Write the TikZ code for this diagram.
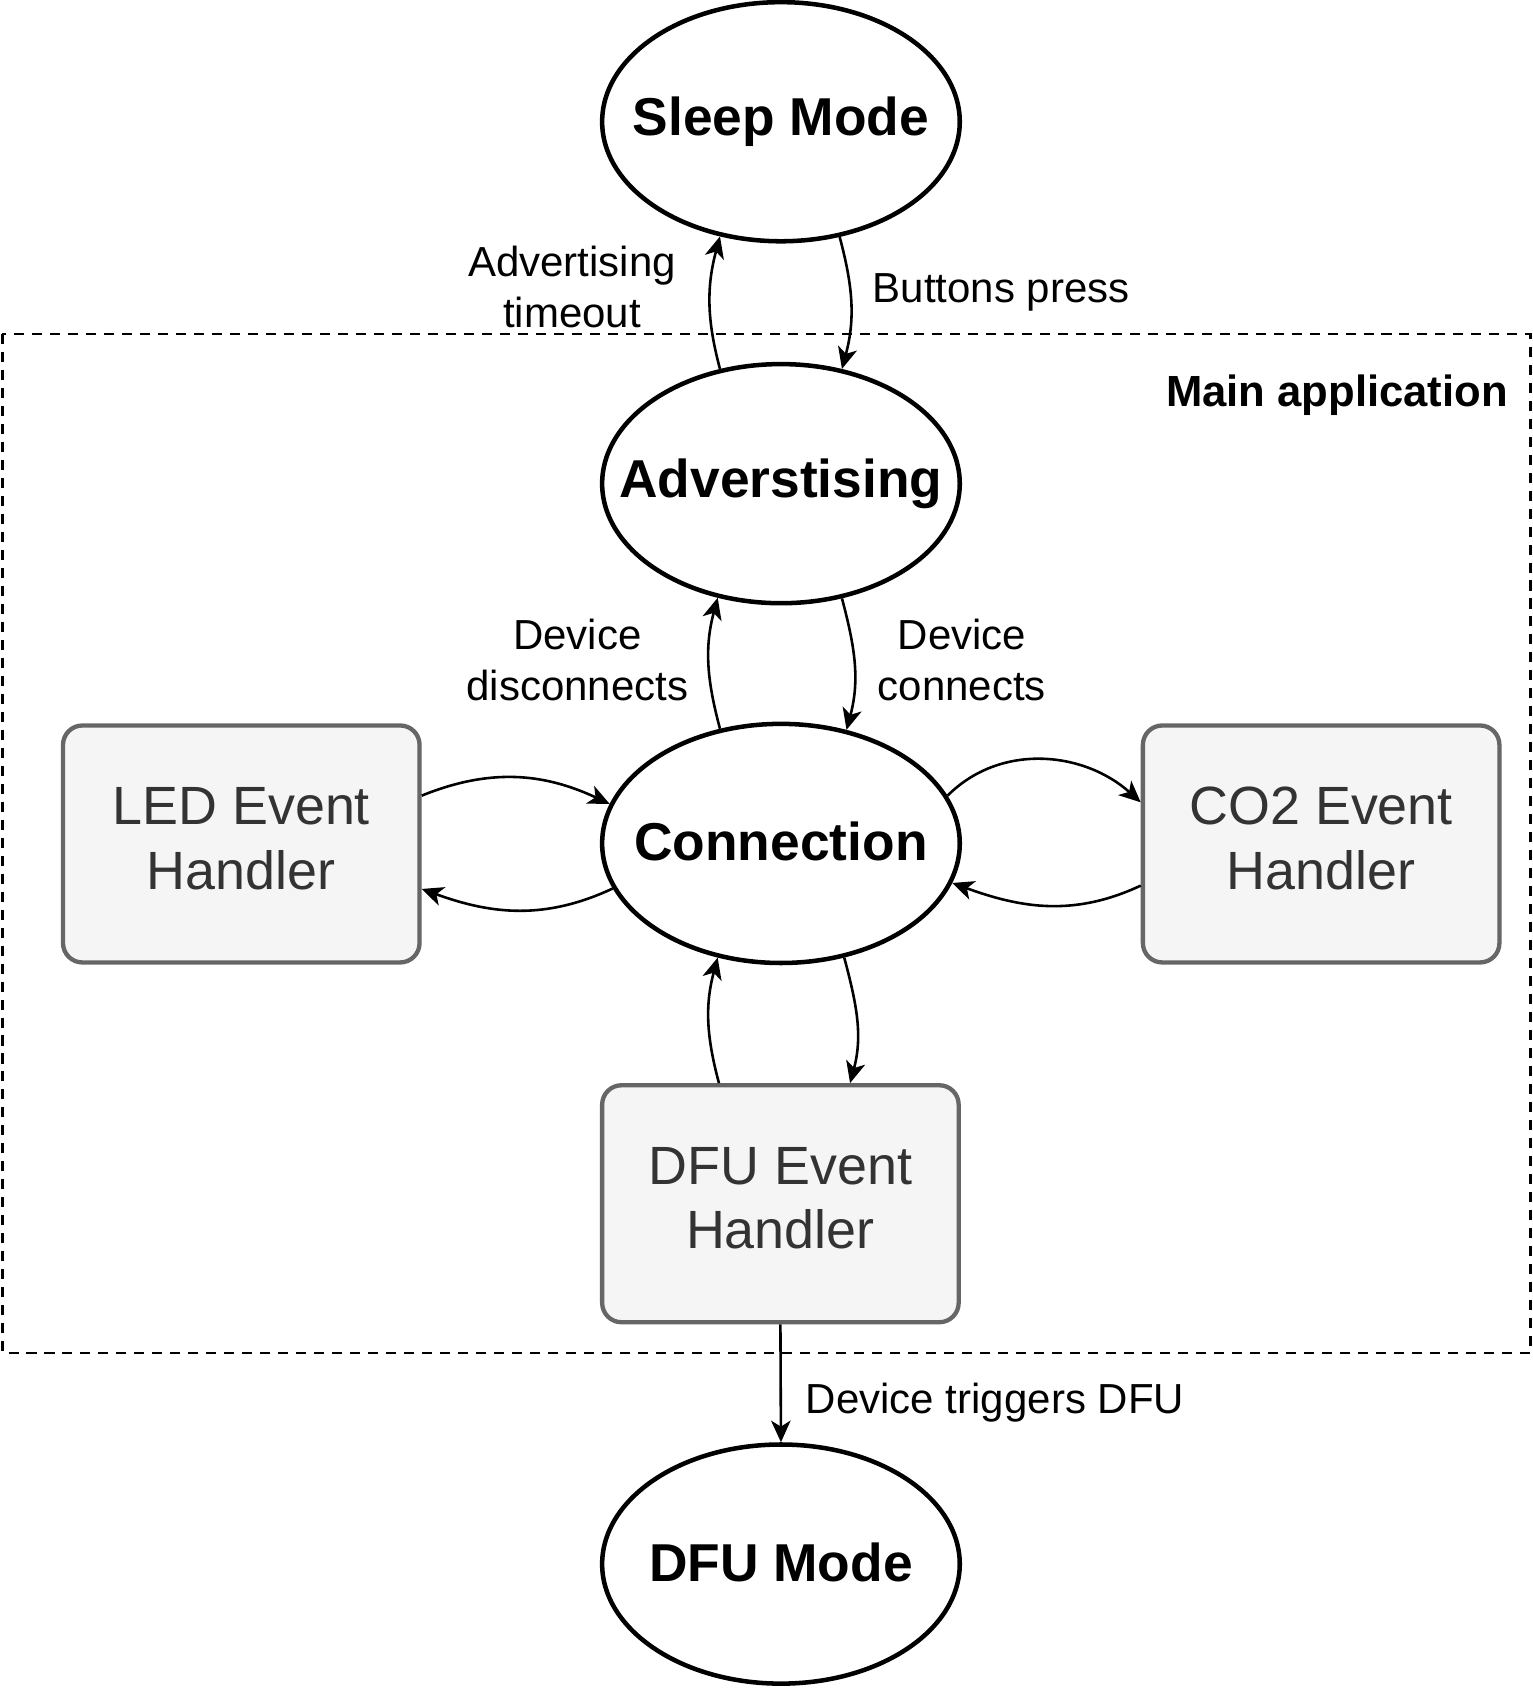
\documentclass[tikz,border=0pt]{standalone}
\usepackage{fontspec}
\setmainfont{Liberation Sans}
\usetikzlibrary{shapes.geometric,arrows.meta}
\definecolor{boxfill}{HTML}{F5F5F5}
\definecolor{boxline}{HTML}{666666}
\definecolor{boxtext}{HTML}{333333}
\newcommand{\twolines}[2]{\raisebox{5pt}{\begin{tabular}{@{}c@{}}#1\\#2\end{tabular}}}
\tikzset{
  statenode/.style={ellipse, draw=black, line width=4.2pt, fill=white,
    minimum width=332pt, minimum height=222pt, inner sep=0pt,
    font=\fontsize{49.5}{59}\selectfont\bfseries},
  handlerbox/.style={rectangle, rounded corners=18pt, draw=boxline, fill=boxfill,
    line width=4pt, minimum width=331pt, minimum height=220pt, inner sep=0pt,
    text=boxtext, font=\fontsize{50}{60}\selectfont},
  lbl/.style={align=center, inner sep=0pt, font=\fontsize{39}{47}\selectfont},
  arr/.style={line width=2.4pt, -{Stealth[length=20pt,width=18pt,inset=5.5pt]}},
  groupbox/.style={draw=black, line width=2.6pt, dash pattern=on 9.3pt off 7.4pt},
}
\begin{document}
\begin{tikzpicture}[x=1pt,y=1pt]
\useasboundingbox (0,0) rectangle (1423,-1568);
% group frame
\draw[groupbox] (2,-310) rectangle (1421,-1256);
\node[anchor=east, inner sep=0pt, font=\fontsize{40.5}{48}\selectfont\bfseries] (mainlbl) at (1400,-367) {Main application};
% states
\node[statenode] (sleep) at (725,-113) {\makebox[0pt]{\raisebox{-1pt}{Sleep Mode}}};
\node[statenode] (adv) at (725,-449) {\makebox[0pt]{\raisebox{2pt}{Adverstising}}};
\node[statenode] (conn) at (725,-783) {\makebox[0pt]{\raisebox{4pt}{Connection}}};
\node[statenode] (dfumode) at (725,-1452) {\makebox[0pt]{\raisebox{4pt}{DFU Mode}}};
% handlers
\node[handlerbox] (led) at (224,-783.5) {\twolines{LED Event}{Handler}};
\node[handlerbox] (co2) at (1226.5,-783.5) {\twolines{CO2 Event}{Handler}};
\node[handlerbox] (dfuh) at (724.5,-1117.5) {\twolines{DFU Event}{Handler}};
% connectors
\draw[arr] (adv.118) to[out=105,in=255] (sleep.-118);
\draw[arr] (sleep.-63) to[out=-75,in=75] (adv.62);
\draw[arr] (conn.118) to[out=105,in=255] (adv.-119);
\draw[arr] (adv.-62) to[out=-75,in=75] (conn.60);
\draw[arr] (dfuh.117) to[out=105,in=255] (conn.-119);
\draw[arr] (conn.-61) to[out=-75,in=75] (dfuh.60);
\draw[arr] (led.15) to[out=22,in=155] (conn.167);
\draw[arr] (conn.195) to[out=205,in=-20] (led.-14);
\draw[arr] (conn.16) to[out=45,in=138] (co2.167);
\draw[arr] (co2.193) to[out=205,in=-20] (conn.-13.5);
\draw[arr] (dfuh.south) -- (dfumode.north);
% labels
\node[lbl] (l1) at (531,-266.5) {Advertising\\timeout};
\node[lbl, anchor=west] (l2) at (810,-271) {Buttons press};
\node[lbl] (l3) at (536,-612.5) {Device\\disconnects};
\node[lbl] (l4) at (893,-612.5) {Device\\connects};
\node[lbl, anchor=west] (l5) at (748,-1302) {Device triggers DFU};
\end{tikzpicture}
\end{document}
